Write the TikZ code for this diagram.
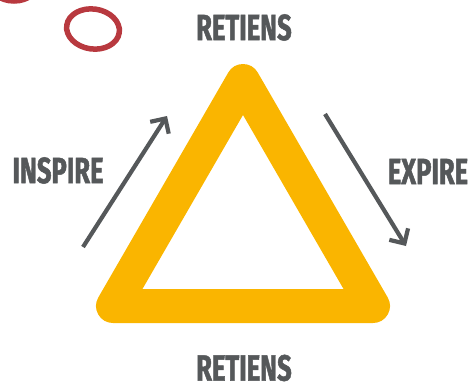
\documentclass[tikz,border=0pt]{standalone}
\usepackage{fontspec}
\setmainfont{Fira Sans}[FakeStretch=0.7, BoldFeatures={FakeBold=1.3}]
\usetikzlibrary{arrows.meta}
\definecolor{tri}{HTML}{FAB500}
\definecolor{txt}{HTML}{55585A}
\definecolor{ring}{HTML}{B8393F}
\tikzset{
  lbl/.style={text=txt, font=\fontsize{36.5}{36.5}\selectfont\bfseries, inner sep=0pt},
  flow/.style={draw=txt, line width=4.2pt, -{Straight Barb[length=11pt,width=22pt,line width=4.2pt]}},
  ringline/.style={draw=ring, line width=5.5pt}
}
\begin{document}
\begin{tikzpicture}[x=1pt,y=-1pt]
\useasboundingbox (0,0) rectangle (472,383);
\begin{scope}
\clip (0,0) rectangle (472,383);
\draw[ringline] (14,-20) ellipse [x radius=26, y radius=21];
\end{scope}
\draw[ringline, rotate around={-8:(93,29)}] (93,29) ellipse [x radius=26.5, y radius=20];
\draw[tri, line width=34pt, line join=round] (113,306) -- (243,81) -- (373,306) -- cycle;
\node[lbl] (top) at (244,27.5) {RETIENS};
\node[lbl] (bot) at (244,368) {RETIENS};
\node[lbl] (ins) at (58,170.5) {INSPIRE};
\node[lbl] (exp) at (428,171.5) {EXPIRE};
\coordinate (a1) at (83,247);
\coordinate (a2) at (167,116);
\coordinate (b1) at (325,114);
\coordinate (b2) at (406,246);
\draw[flow] (a1) -- (a2);
\draw[flow] (b1) -- (b2);
\end{tikzpicture}
\end{document}
